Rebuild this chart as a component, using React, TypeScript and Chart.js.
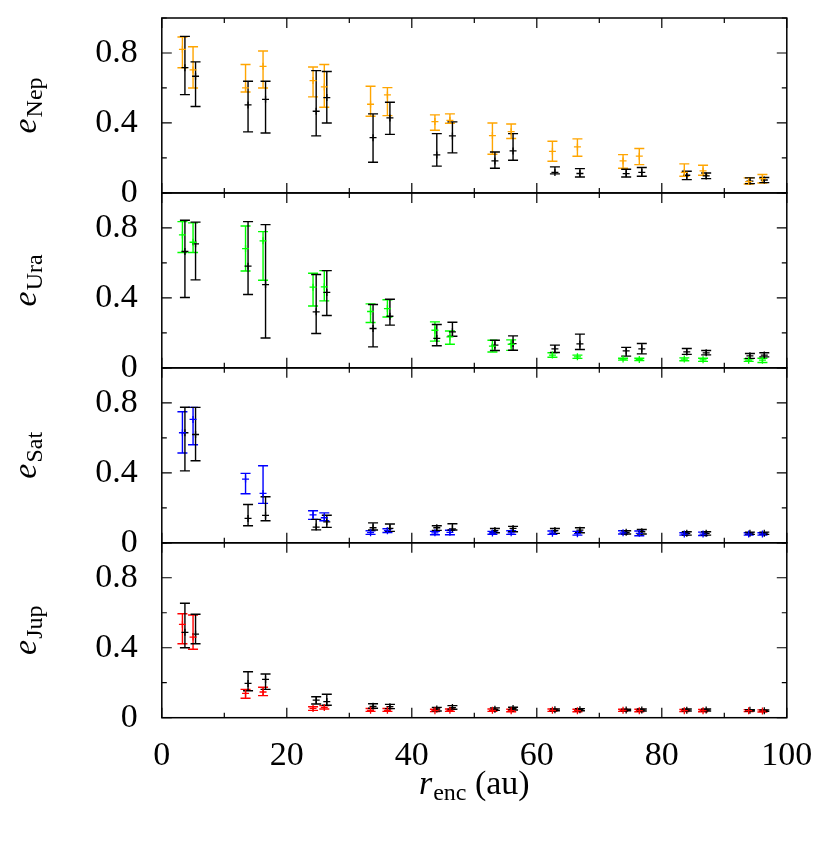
import React, { useEffect, useRef } from "react";
import { Chart, registerables } from "chart.js";

Chart.register(...registerables);

// ---------- data ----------
const xColour = [3.3, 5.0, 13.4, 16.2, 24.2, 26.0, 33.4, 36.1, 43.7, 46.1, 52.9, 55.9, 62.5, 66.5, 73.8, 76.4, 83.6, 86.6, 93.9, 96.1];
const xBlack = [3.7, 5.4, 13.8, 16.6, 24.7, 26.4, 33.8, 36.5, 44.0, 46.5, 53.3, 56.2, 62.9, 66.9, 74.3, 76.8, 84.0, 87.1, 94.1, 96.4];

const nepC = [0.821, 0.703, 0.6, 0.724, 0.642, 0.606, 0.507, 0.56, 0.408, 0.415, 0.328, 0.35, 0.238, 0.263, 0.183, 0.21, 0.117, 0.126, 0.065, 0.082];
const nepCLo = [0.716, 0.6, 0.577, 0.6, 0.549, 0.49, 0.438, 0.442, 0.358, 0.398, 0.221, 0.311, 0.181, 0.21, 0.141, 0.162, 0.095, 0.101, 0.051, 0.057];
const nepCHi = [0.891, 0.836, 0.734, 0.811, 0.72, 0.734, 0.61, 0.602, 0.446, 0.452, 0.4, 0.394, 0.295, 0.309, 0.219, 0.254, 0.166, 0.158, 0.086, 0.105];
const nepB = [0.716, 0.667, 0.503, 0.535, 0.467, 0.545, 0.316, 0.429, 0.217, 0.326, 0.183, 0.24, 0.117, 0.111, 0.11, 0.117, 0.101, 0.097, 0.067, 0.074];
const nepBLo = [0.562, 0.494, 0.349, 0.343, 0.326, 0.4, 0.175, 0.335, 0.153, 0.229, 0.141, 0.187, 0.109, 0.091, 0.091, 0.095, 0.076, 0.082, 0.053, 0.059];
const nepBHi = [0.895, 0.749, 0.638, 0.638, 0.699, 0.694, 0.452, 0.518, 0.339, 0.406, 0.234, 0.339, 0.149, 0.139, 0.135, 0.145, 0.124, 0.114, 0.086, 0.088];

const uraC = [0.76, 0.718, 0.682, 0.726, 0.461, 0.463, 0.322, 0.339, 0.215, 0.177, 0.124, 0.135, 0.073, 0.063, 0.05, 0.048, 0.05, 0.046, 0.044, 0.044];
const uraCLo = [0.659, 0.659, 0.554, 0.501, 0.354, 0.383, 0.259, 0.291, 0.153, 0.135, 0.091, 0.1, 0.061, 0.054, 0.044, 0.042, 0.041, 0.037, 0.037, 0.031];
const uraCHi = [0.836, 0.829, 0.811, 0.779, 0.541, 0.556, 0.366, 0.389, 0.263, 0.211, 0.158, 0.16, 0.086, 0.073, 0.055, 0.055, 0.057, 0.055, 0.052, 0.055];
const uraB = [0.665, 0.709, 0.581, 0.476, 0.32, 0.431, 0.225, 0.295, 0.168, 0.206, 0.13, 0.139, 0.109, 0.137, 0.097, 0.109, 0.091, 0.086, 0.069, 0.073];
const uraBLo = [0.402, 0.503, 0.419, 0.171, 0.196, 0.299, 0.12, 0.244, 0.126, 0.181, 0.099, 0.101, 0.088, 0.105, 0.067, 0.08, 0.077, 0.074, 0.054, 0.063];
const uraBHi = [0.844, 0.833, 0.836, 0.819, 0.534, 0.556, 0.362, 0.392, 0.248, 0.261, 0.158, 0.183, 0.13, 0.193, 0.117, 0.139, 0.111, 0.099, 0.082, 0.086];

const satC = [0.629, 0.705, 0.364, 0.282, 0.16, 0.143, 0.058, 0.069, 0.057, 0.06, 0.056, 0.057, 0.055, 0.052, 0.057, 0.054, 0.05, 0.05, 0.05, 0.05];
const satCLo = [0.513, 0.56, 0.28, 0.225, 0.134, 0.126, 0.048, 0.059, 0.046, 0.046, 0.049, 0.048, 0.048, 0.044, 0.05, 0.04, 0.044, 0.042, 0.044, 0.044];
const satCHi = [0.749, 0.774, 0.397, 0.44, 0.183, 0.171, 0.069, 0.08, 0.065, 0.072, 0.065, 0.069, 0.067, 0.065, 0.069, 0.067, 0.057, 0.061, 0.057, 0.057];
const satB = [0.629, 0.619, 0.139, 0.157, 0.09, 0.12, 0.086, 0.082, 0.086, 0.08, 0.07, 0.082, 0.07, 0.072, 0.06, 0.063, 0.054, 0.054, 0.055, 0.055];
const satBLo = [0.411, 0.469, 0.097, 0.126, 0.074, 0.088, 0.073, 0.065, 0.071, 0.073, 0.057, 0.063, 0.054, 0.057, 0.05, 0.05, 0.044, 0.044, 0.048, 0.048];
const satBHi = [0.775, 0.774, 0.219, 0.263, 0.134, 0.157, 0.114, 0.107, 0.097, 0.109, 0.082, 0.094, 0.082, 0.086, 0.069, 0.076, 0.063, 0.063, 0.061, 0.061];

const jupC = [0.534, 0.461, 0.139, 0.147, 0.053, 0.059, 0.042, 0.042, 0.04, 0.042, 0.042, 0.04, 0.042, 0.04, 0.042, 0.04, 0.04, 0.04, 0.04, 0.038];
const jupCLo = [0.423, 0.391, 0.111, 0.126, 0.042, 0.05, 0.036, 0.036, 0.035, 0.036, 0.036, 0.034, 0.036, 0.034, 0.036, 0.034, 0.035, 0.034, 0.035, 0.033];
const jupCHi = [0.594, 0.587, 0.162, 0.174, 0.063, 0.069, 0.053, 0.053, 0.048, 0.05, 0.05, 0.048, 0.05, 0.048, 0.048, 0.048, 0.047, 0.047, 0.046, 0.045];
const jupB = [0.488, 0.478, 0.196, 0.219, 0.101, 0.092, 0.065, 0.063, 0.05, 0.058, 0.048, 0.052, 0.045, 0.046, 0.044, 0.044, 0.043, 0.044, 0.042, 0.04];
const jupBLo = [0.4, 0.423, 0.154, 0.162, 0.078, 0.071, 0.054, 0.052, 0.038, 0.048, 0.042, 0.044, 0.04, 0.04, 0.04, 0.038, 0.038, 0.038, 0.038, 0.036];
const jupBHi = [0.654, 0.591, 0.263, 0.25, 0.12, 0.134, 0.08, 0.076, 0.059, 0.069, 0.056, 0.06, 0.05, 0.052, 0.048, 0.05, 0.05, 0.05, 0.046, 0.045];

const yTickValues = [0, 0.2, 0.4, 0.6, 0.8, 1.0];
const yLabelValues = [0, 0.4, 0.8];
const xTickValues = [0, 10, 20, 30, 40, 50, 60, 70, 80, 90, 100];
const xLabelValues = [0, 20, 40, 60, 80, 100];

// top-to-bottom panel order
const panels = [
  { id: "yNep", sub: "Nep", colour: "#ffa500", c: nepC, cLo: nepCLo, cHi: nepCHi, b: nepB, bLo: nepBLo, bHi: nepBHi },
  { id: "yUra", sub: "Ura", colour: "#00ff00", c: uraC, cLo: uraCLo, cHi: uraCHi, b: uraB, bLo: uraBLo, bHi: uraBHi },
  { id: "ySat", sub: "Sat", colour: "#0000ff", c: satC, cLo: satCLo, cHi: satCHi, b: satB, bLo: satBLo, bHi: satBHi },
  { id: "yJup", sub: "Jup", colour: "#ff0000", c: jupC, cLo: jupCLo, cHi: jupCHi, b: jupB, bLo: jupBLo, bHi: jupBHi },
];

const FONT = "'Liberation Serif', 'Times New Roman', serif";

const errorBars = {
  id: "errorBars",
  beforeDatasetsDraw(chart: any) {
    const ctx = chart.ctx;
    const xs = chart.scales.x;
    ctx.save();
    chart.data.datasets.forEach((ds: any) => {
      const ys = chart.scales[ds.yAxisID];
      ctx.strokeStyle = ds.borderColor;
      ctx.lineWidth = 1.4;
      ds.data.forEach((pt: any, j: number) => {
        const px = xs.getPixelForValue(pt.x);
        const yl = ys.getPixelForValue(ds.errLow[j]);
        const yh = ys.getPixelForValue(ds.errHigh[j]);
        ctx.beginPath();
        ctx.moveTo(px, yl);
        ctx.lineTo(px, yh);
        ctx.moveTo(px - 5, yl);
        ctx.lineTo(px + 5, yl);
        ctx.moveTo(px - 5, yh);
        ctx.lineTo(px + 5, yh);
        ctx.stroke();
      });
    });
    ctx.restore();
  },
};

const frameAndText = {
  id: "frameAndText",
  afterDraw(chart: any) {
    const ctx = chart.ctx;
    const { left, right } = chart.chartArea;
    const xs = chart.scales.x;
    ctx.save();
    ctx.strokeStyle = "#000";
    panels.forEach((p) => {
      const ys = chart.scales[p.id];
      const top = ys.top;
      const bottom = ys.bottom;
      ctx.lineWidth = 1.2;
      ctx.beginPath();
      yTickValues.forEach((v) => {
        const y = ys.getPixelForValue(v);
        const len = yLabelValues.includes(v) ? 10 : 5;
        ctx.moveTo(left, y);
        ctx.lineTo(left + len, y);
        ctx.moveTo(right, y);
        ctx.lineTo(right - len, y);
      });
      xTickValues.forEach((v) => {
        const x = xs.getPixelForValue(v);
        const len = xLabelValues.includes(v) ? 10 : 5;
        ctx.moveTo(x, top);
        ctx.lineTo(x, top + len);
        ctx.moveTo(x, bottom);
        ctx.lineTo(x, bottom - len);
      });
      ctx.stroke();
      ctx.lineWidth = 1.5;
      ctx.strokeRect(left, top, right - left, bottom - top);

      // y title: e_{sub}
      const cy = (top + bottom) / 2;
      ctx.save();
      ctx.translate(36, cy);
      ctx.rotate(-Math.PI / 2);
      ctx.fillStyle = "#000";
      ctx.textBaseline = "alphabetic";
      ctx.textAlign = "left";
      ctx.font = `italic 34px ${FONT}`;
      const we = ctx.measureText("e").width;
      ctx.font = `24px ${FONT}`;
      const ws = ctx.measureText(p.sub).width;
      const start = -(we + 1 + ws) / 2;
      ctx.font = `italic 34px ${FONT}`;
      ctx.fillText("e", start, 0);
      ctx.font = `24px ${FONT}`;
      ctx.fillText(p.sub, start + we + 1, 6);
      ctx.restore();
    });

    // x title: r_enc (au)
    ctx.fillStyle = "#000";
    ctx.textBaseline = "alphabetic";
    ctx.textAlign = "left";
    const baseY = 794;
    ctx.font = `italic 34px ${FONT}`;
    const wr = ctx.measureText("r").width;
    ctx.font = `24px ${FONT}`;
    const wenc = ctx.measureText("enc").width;
    ctx.font = `34px ${FONT}`;
    const wau = ctx.measureText(" (au)").width;
    const total = wr + 1 + wenc + wau;
    let x0 = (left + right) / 2 - total / 2;
    ctx.font = `italic 34px ${FONT}`;
    ctx.fillText("r", x0, baseY);
    x0 += wr + 1;
    ctx.font = `24px ${FONT}`;
    ctx.fillText("enc", x0, baseY + 6);
    x0 += wenc;
    ctx.font = `34px ${FONT}`;
    ctx.fillText(" (au)", x0, baseY);
    ctx.restore();
  },
};

export default function App() {
  const ref = useRef<HTMLCanvasElement | null>(null);

  useEffect(() => {
    document.body.style.margin = "0";
    const canvas = ref.current;
    if (!canvas) return;

    const datasets: any[] = [];
    panels.forEach((p) => {
      datasets.push({
        label: p.sub + " colour",
        yAxisID: p.id,
        data: xColour.map((x, i) => ({ x, y: p.c[i] })),
        errLow: p.cLo,
        errHigh: p.cHi,
        borderColor: p.colour,
        backgroundColor: p.colour,
        pointStyle: "cross",
        pointRadius: 3.5,
        pointBorderWidth: 1.3,
        showLine: false,
      });
      datasets.push({
        label: p.sub + " black",
        yAxisID: p.id,
        data: xBlack.map((x, i) => ({ x, y: p.b[i] })),
        errLow: p.bLo,
        errHigh: p.bHi,
        borderColor: "#000000",
        backgroundColor: "#000000",
        pointStyle: "cross",
        pointRadius: 3.5,
        pointBorderWidth: 1.3,
        showLine: false,
      });
    });

    const yScale = () => ({
      type: "linear",
      position: "left",
      stack: "panels",
      stackWeight: 1,
      min: 0,
      max: 1,
      grid: { display: false, drawTicks: false },
      border: { display: false },
      afterBuildTicks: (s: any) => {
        s.ticks = yLabelValues.map((v) => ({ value: v }));
      },
      afterFit: (s: any) => {
        s.width = 161.8;
        s.paddingTop = 0;
        s.paddingBottom = 0;
      },
      ticks: {
        autoSkip: false,
        padding: 24,
        color: "#000",
        font: { family: FONT, size: 34 },
      },
    });

    const scales: any = {
      x: {
        type: "linear",
        position: "bottom",
        min: 0,
        max: 100,
        grid: { display: false, drawTicks: false },
        border: { display: false },
        afterBuildTicks: (s: any) => {
          s.ticks = xLabelValues.map((v) => ({ value: v }));
        },
        afterFit: (s: any) => {
          s.height = 851 - 717.7;
          s.paddingLeft = 0;
          s.paddingRight = 0;
        },
        ticks: {
          autoSkip: false,
          maxRotation: 0,
          padding: 18,
          color: "#000",
          font: { family: FONT, size: 34 },
        },
      },
    };
    // stacked axes are placed bottom-up, so register them in reverse order
    [...panels].reverse().forEach((p) => {
      scales[p.id] = yScale();
    });

    const chart = new Chart(canvas, {
      type: "scatter",
      data: { datasets },
      options: {
        animation: false,
        responsive: false,
        devicePixelRatio: 1,
        layout: { padding: { top: 18, right: 43.2, left: 0, bottom: 0 } },
        plugins: { legend: { display: false }, tooltip: { enabled: false } },
        scales,
      } as any,
      plugins: [errorBars, frameAndText],
    });
    return () => chart.destroy();
  }, []);

  return (
    <div style={{ width: 830, height: 851, background: "#fff" }}>
      <canvas ref={ref} width={830} height={851} style={{ display: "block" }} />
    </div>
  );
}
